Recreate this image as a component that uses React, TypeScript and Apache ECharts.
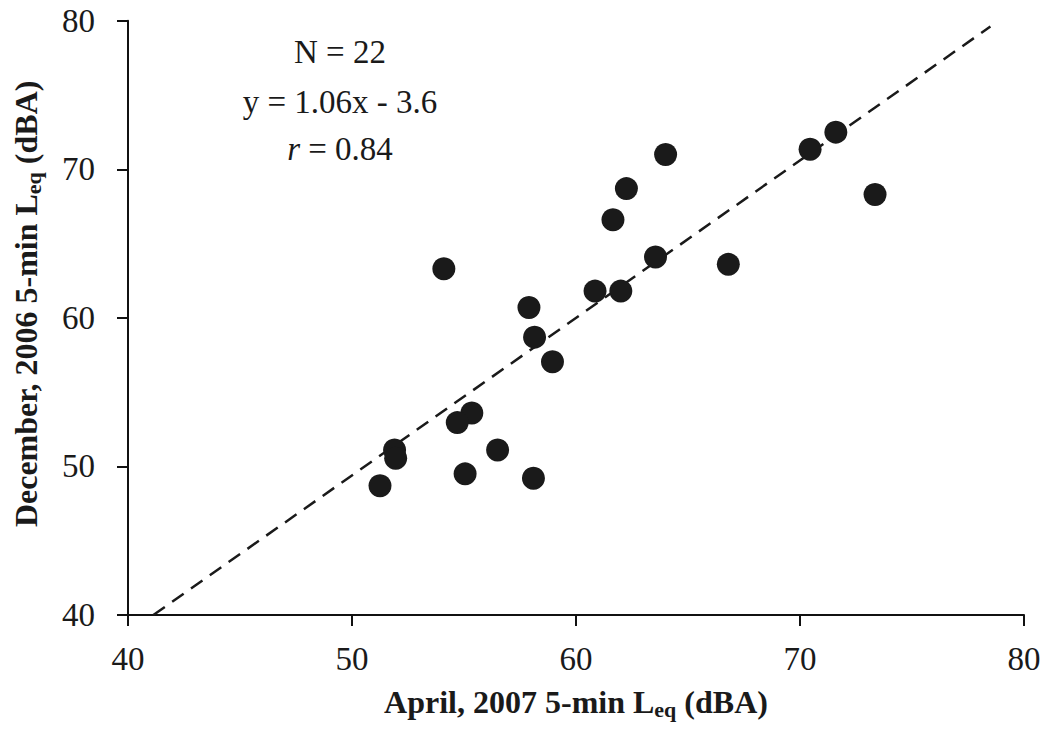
import React, { useEffect, useRef } from "react";
import * as echarts from "echarts";

const aprilLeq = [54.1, 57.9, 58.15, 60.85, 62.0, 63.55, 61.65, 62.25, 64.0, 66.8, 70.45, 71.6, 73.35, 58.95, 55.35, 54.7, 51.9, 51.95, 51.25, 56.5, 55.05, 58.1];
const decemberLeq = [63.3, 60.7, 58.7, 61.8, 61.8, 64.1, 66.6, 68.7, 71.0, 63.6, 71.35, 72.5, 68.3, 57.05, 53.6, 52.95, 51.1, 50.55, 48.7, 51.1, 49.5, 49.2];
const xTicks = [40, 50, 60, 70, 80];
const yTicks = [40, 50, 60, 70, 80];
const slope = 1.06;
const intercept = -3.6;
const fitXEnd = 78.5;
const statsLines = ["N = 22", "y = 1.06x - 3.6", "r = 0.84"];

export default function App() {
  const ref = useRef<HTMLDivElement>(null);
  useEffect(() => {
    if (!ref.current) return;
    const chart = echarts.init(ref.current, null, { renderer: "svg" });
    const yMin = yTicks[0];
    const fitXStart = (yMin - intercept) / slope;
    const fitLine = [
      [fitXStart, slope * fitXStart + intercept],
      [fitXEnd, slope * fitXEnd + intercept],
    ];
    const points = aprilLeq.map((x, i) => [x, decemberLeq[i]]);
    const serif = "'Liberation Serif', 'Times New Roman', serif";
    const nameRich = {
      b: { fontFamily: serif, fontWeight: "bold", fontSize: 32, color: "#1a1a1a" },
      s: { fontFamily: serif, fontWeight: "bold", fontSize: 22, color: "#1a1a1a", padding: [15, 0, 0, 0] },
    };
    const textCenterX = 340;
    const lineYs = [52, 102, 149];
    const statFont = 33;
    chart.setOption({
      animation: false,
      backgroundColor: "#ffffff",
      grid: { left: 128, right: 26, top: 20.7, bottom: 125, containLabel: false, outerBoundsMode: "none" },
      xAxis: {
        type: "value",
        min: xTicks[0],
        max: xTicks[xTicks.length - 1],
        interval: 10,
        name: "{b|April, 2007 5-min L}{s|eq}{b| (dBA)}",
        nameLocation: "middle",
        nameGap: 68,
        nameTextStyle: { rich: nameRich },
        axisLine: { show: true, onZero: false, lineStyle: { color: "#111", width: 2 } },
        axisTick: { show: true, inside: false, length: 11, lineStyle: { color: "#111", width: 2 } },
        axisLabel: { margin: 27, fontFamily: serif, fontSize: 33, color: "#1a1a1a" },
        splitLine: { show: false },
      },
      yAxis: {
        type: "value",
        min: yTicks[0],
        max: yTicks[yTicks.length - 1],
        interval: 10,
        name: "{b|December, 2006 5-min L}{s|eq}{b| (dBA)}",
        nameLocation: "middle",
        nameGap: 84,
        nameRotate: 90,
        nameTextStyle: { rich: nameRich, padding: [0, 0, 0, 28] },
        axisLine: { show: true, onZero: false, lineStyle: { color: "#111", width: 2 } },
        axisTick: { show: true, inside: false, length: 11, lineStyle: { color: "#111", width: 2 } },
        axisLabel: { margin: 33, fontFamily: serif, fontSize: 33, color: "#1a1a1a" },
        splitLine: { show: false },
      },
      graphic: statsLines.map((t, i) => ({
        type: "text",
        x: textCenterX,
        y: lineYs[i],
        style: {
          text: i === 2 ? "{i|r}{n| = 0.84}" : t,
          rich: i === 2 ? {
            i: { fontFamily: serif, fontStyle: "italic", fontSize: statFont, fill: "#1a1a1a" },
            n: { fontFamily: serif, fontSize: statFont, fill: "#1a1a1a" },
          } : undefined,
          fontFamily: serif,
          fontSize: statFont,
          fill: "#1a1a1a",
          align: "center",
          verticalAlign: "middle",
        },
      })),
      series: [
        {
          type: "line",
          data: fitLine,
          symbol: "none",
          z: 1,
          lineStyle: { color: "#1a1a1a", width: 2.5, type: [14, 9] },
        },
        {
          type: "scatter",
          data: points,
          symbol: "circle",
          symbolSize: 23,
          z: 2,
          itemStyle: { color: "#1a1a1a", opacity: 1 },
        },
      ],
    });
    return () => chart.dispose();
  }, []);
  return (
    <div
      ref={ref}
      style={{ position: "fixed", left: 0, top: 0, width: 1050, height: 740, background: "#fff" }}
    />
  );
}
